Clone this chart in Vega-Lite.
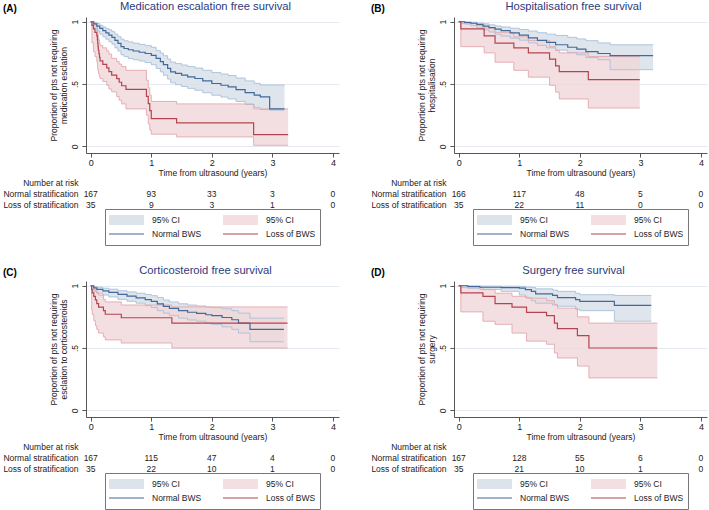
{
  "$schema": "https://vega.github.io/schema/vega-lite/v6.json",
  "padding": {"left": 2, "top": 0, "right": 2, "bottom": 0},
  "background": "white",
  "config": {
    "font": "Liberation Sans",
    "view": {"stroke": null},
    "title": {"font": "Liberation Sans", "fontWeight": "normal"},
    "axis": {"labelFont": "Liberation Sans", "titleFont": "Liberation Sans", "labelColor": "#222", "titleColor": "#222", "titleFontWeight": "normal", "domainColor": "#555", "tickColor": "#555", "tickSize": 4, "gridColor": "#e3e9ee", "labelFontSize": 9, "titleFontSize": 8.5},
    "legend": {"labelFont": "Liberation Sans", "labelFontSize": 8.5, "labelColor": "#222", "strokeColor": "#777", "padding": 4, "columnPadding": 21, "rowPadding": 0, "labelOffset": 3, "symbolOffset": -5},
    "text": {"font": "Liberation Sans"}
  },
  "datasets": {
    "km": [
      {"p":"A","g":"N","t":0,"s":1,"lo":1,"hi":1},{"p":"A","g":"N","t":0.05,"s":0.982,"lo":0.95,"hi":0.995},{"p":"A","g":"N","t":0.1,"s":0.964,"lo":0.925,"hi":0.985},{"p":"A","g":"N","t":0.15,"s":0.946,"lo":0.9,"hi":0.972},{"p":"A","g":"N","t":0.2,"s":0.928,"lo":0.88,"hi":0.958},{"p":"A","g":"N","t":0.25,"s":0.91,"lo":0.86,"hi":0.945},{"p":"A","g":"N","t":0.3,"s":0.892,"lo":0.84,"hi":0.935},{"p":"A","g":"N","t":0.35,"s":0.874,"lo":0.82,"hi":0.92},{"p":"A","g":"N","t":0.4,"s":0.85,"lo":0.79,"hi":0.9},{"p":"A","g":"N","t":0.45,"s":0.826,"lo":0.765,"hi":0.88},{"p":"A","g":"N","t":0.5,"s":0.8,"lo":0.735,"hi":0.86},{"p":"A","g":"N","t":0.55,"s":0.785,"lo":0.72,"hi":0.847},{"p":"A","g":"N","t":0.62,"s":0.775,"lo":0.705,"hi":0.838},{"p":"A","g":"N","t":0.7,"s":0.765,"lo":0.695,"hi":0.828},{"p":"A","g":"N","t":0.8,"s":0.755,"lo":0.685,"hi":0.818},{"p":"A","g":"N","t":0.9,"s":0.745,"lo":0.672,"hi":0.808},{"p":"A","g":"N","t":1.0,"s":0.73,"lo":0.655,"hi":0.795},{"p":"A","g":"N","t":1.08,"s":0.705,"lo":0.625,"hi":0.768},{"p":"A","g":"N","t":1.15,"s":0.68,"lo":0.598,"hi":0.748},{"p":"A","g":"N","t":1.2,"s":0.655,"lo":0.57,"hi":0.727},{"p":"A","g":"N","t":1.27,"s":0.625,"lo":0.54,"hi":0.7},{"p":"A","g":"N","t":1.32,"s":0.598,"lo":0.51,"hi":0.676},{"p":"A","g":"N","t":1.4,"s":0.585,"lo":0.495,"hi":0.664},{"p":"A","g":"N","t":1.5,"s":0.571,"lo":0.48,"hi":0.652},{"p":"A","g":"N","t":1.6,"s":0.558,"lo":0.465,"hi":0.64},{"p":"A","g":"N","t":1.72,"s":0.544,"lo":0.45,"hi":0.628},{"p":"A","g":"N","t":1.85,"s":0.525,"lo":0.43,"hi":0.61},{"p":"A","g":"N","t":2.0,"s":0.504,"lo":0.41,"hi":0.592},{"p":"A","g":"N","t":2.15,"s":0.49,"lo":0.395,"hi":0.58},{"p":"A","g":"N","t":2.27,"s":0.477,"lo":0.38,"hi":0.568},{"p":"A","g":"N","t":2.4,"s":0.455,"lo":0.36,"hi":0.548},{"p":"A","g":"N","t":2.55,"s":0.43,"lo":0.335,"hi":0.525},{"p":"A","g":"N","t":2.7,"s":0.41,"lo":0.31,"hi":0.505},{"p":"A","g":"N","t":2.8,"s":0.397,"lo":0.295,"hi":0.492},{"p":"A","g":"N","t":2.955,"s":0.3,"lo":0.29,"hi":0.492},{"p":"A","g":"N","t":3.2,"s":0.3,"lo":0.29,"hi":0.492},
      {"p":"A","g":"L","t":0,"s":1,"lo":1,"hi":1},{"p":"A","g":"L","t":0.02,"s":0.971,"lo":0.83,"hi":0.996},{"p":"A","g":"L","t":0.045,"s":0.943,"lo":0.76,"hi":0.99},{"p":"A","g":"L","t":0.07,"s":0.914,"lo":0.72,"hi":0.975},{"p":"A","g":"L","t":0.1,"s":0.886,"lo":0.68,"hi":0.955},{"p":"A","g":"L","t":0.11,"s":0.857,"lo":0.655,"hi":0.935},{"p":"A","g":"L","t":0.115,"s":0.829,"lo":0.63,"hi":0.915},{"p":"A","g":"L","t":0.12,"s":0.8,"lo":0.61,"hi":0.895},{"p":"A","g":"L","t":0.126,"s":0.771,"lo":0.59,"hi":0.87},{"p":"A","g":"L","t":0.135,"s":0.743,"lo":0.575,"hi":0.85},{"p":"A","g":"L","t":0.145,"s":0.714,"lo":0.56,"hi":0.83},{"p":"A","g":"L","t":0.154,"s":0.686,"lo":0.545,"hi":0.81},{"p":"A","g":"L","t":0.2,"s":0.657,"lo":0.52,"hi":0.79},{"p":"A","g":"L","t":0.264,"s":0.629,"lo":0.49,"hi":0.765},{"p":"A","g":"L","t":0.3,"s":0.6,"lo":0.46,"hi":0.74},{"p":"A","g":"L","t":0.346,"s":0.571,"lo":0.437,"hi":0.705},{"p":"A","g":"L","t":0.429,"s":0.543,"lo":0.4,"hi":0.68},{"p":"A","g":"L","t":0.47,"s":0.514,"lo":0.37,"hi":0.66},{"p":"A","g":"L","t":0.511,"s":0.486,"lo":0.34,"hi":0.64},{"p":"A","g":"L","t":0.582,"s":0.457,"lo":0.3,"hi":0.61},{"p":"A","g":"L","t":0.92,"s":0.4,"lo":0.25,"hi":0.53},{"p":"A","g":"L","t":0.95,"s":0.343,"lo":0.18,"hi":0.47},{"p":"A","g":"L","t":0.975,"s":0.286,"lo":0.13,"hi":0.41},{"p":"A","g":"L","t":1.0,"s":0.222,"lo":0.097,"hi":0.36},{"p":"A","g":"L","t":1.418,"s":0.188,"lo":0.075,"hi":0.34},{"p":"A","g":"L","t":2.69,"s":0.094,"lo":0.008,"hi":0.3},{"p":"A","g":"L","t":3.26,"s":0.094,"lo":0.008,"hi":0.3},
      {"p":"B","g":"N","t":0,"s":1,"lo":1,"hi":1},{"p":"B","g":"N","t":0.1,"s":0.994,"lo":0.982,"hi":0.999},{"p":"B","g":"N","t":0.2,"s":0.988,"lo":0.968,"hi":0.996},{"p":"B","g":"N","t":0.3,"s":0.976,"lo":0.952,"hi":0.99},{"p":"B","g":"N","t":0.4,"s":0.964,"lo":0.935,"hi":0.983},{"p":"B","g":"N","t":0.5,"s":0.952,"lo":0.918,"hi":0.975},{"p":"B","g":"N","t":0.6,"s":0.94,"lo":0.9,"hi":0.966},{"p":"B","g":"N","t":0.7,"s":0.928,"lo":0.885,"hi":0.958},{"p":"B","g":"N","t":0.85,"s":0.91,"lo":0.868,"hi":0.948},{"p":"B","g":"N","t":1.0,"s":0.892,"lo":0.852,"hi":0.938},{"p":"B","g":"N","t":1.15,"s":0.87,"lo":0.83,"hi":0.925},{"p":"B","g":"N","t":1.3,"s":0.85,"lo":0.81,"hi":0.912},{"p":"B","g":"N","t":1.45,"s":0.835,"lo":0.79,"hi":0.9},{"p":"B","g":"N","t":1.6,"s":0.815,"lo":0.772,"hi":0.89},{"p":"B","g":"N","t":1.8,"s":0.795,"lo":0.752,"hi":0.875},{"p":"B","g":"N","t":1.95,"s":0.78,"lo":0.735,"hi":0.862},{"p":"B","g":"N","t":2.1,"s":0.76,"lo":0.712,"hi":0.848},{"p":"B","g":"N","t":2.3,"s":0.745,"lo":0.695,"hi":0.83},{"p":"B","g":"N","t":2.5,"s":0.728,"lo":0.615,"hi":0.815},{"p":"B","g":"N","t":3.21,"s":0.728,"lo":0.615,"hi":0.815},
      {"p":"B","g":"L","t":0,"s":1,"lo":1,"hi":1},{"p":"B","g":"L","t":0.035,"s":0.943,"lo":0.8,"hi":0.985},{"p":"B","g":"L","t":0.42,"s":0.886,"lo":0.75,"hi":0.95},{"p":"B","g":"L","t":0.6,"s":0.829,"lo":0.675,"hi":0.915},{"p":"B","g":"L","t":0.91,"s":0.79,"lo":0.61,"hi":0.878},{"p":"B","g":"L","t":1.15,"s":0.75,"lo":0.555,"hi":0.85},{"p":"B","g":"L","t":1.5,"s":0.7,"lo":0.49,"hi":0.8},{"p":"B","g":"L","t":1.6,"s":0.645,"lo":0.435,"hi":0.77},{"p":"B","g":"L","t":1.66,"s":0.6,"lo":0.38,"hi":0.75},{"p":"B","g":"L","t":2.14,"s":0.535,"lo":0.307,"hi":0.72},{"p":"B","g":"L","t":2.99,"s":0.535,"lo":0.307,"hi":0.72},
      {"p":"C","g":"N","t":0,"s":1,"lo":1,"hi":1},{"p":"C","g":"N","t":0.05,"s":0.982,"lo":0.955,"hi":0.994},{"p":"C","g":"N","t":0.1,"s":0.97,"lo":0.94,"hi":0.988},{"p":"C","g":"N","t":0.2,"s":0.958,"lo":0.925,"hi":0.98},{"p":"C","g":"N","t":0.3,"s":0.946,"lo":0.91,"hi":0.972},{"p":"C","g":"N","t":0.45,"s":0.93,"lo":0.89,"hi":0.96},{"p":"C","g":"N","t":0.6,"s":0.916,"lo":0.875,"hi":0.95},{"p":"C","g":"N","t":0.75,"s":0.903,"lo":0.86,"hi":0.94},{"p":"C","g":"N","t":0.9,"s":0.888,"lo":0.84,"hi":0.93},{"p":"C","g":"N","t":1.0,"s":0.875,"lo":0.825,"hi":0.92},{"p":"C","g":"N","t":1.1,"s":0.855,"lo":0.8,"hi":0.905},{"p":"C","g":"N","t":1.2,"s":0.835,"lo":0.78,"hi":0.885},{"p":"C","g":"N","t":1.3,"s":0.818,"lo":0.76,"hi":0.87},{"p":"C","g":"N","t":1.45,"s":0.8,"lo":0.74,"hi":0.855},{"p":"C","g":"N","t":1.6,"s":0.787,"lo":0.725,"hi":0.845},{"p":"C","g":"N","t":1.75,"s":0.778,"lo":0.715,"hi":0.838},{"p":"C","g":"N","t":1.9,"s":0.767,"lo":0.7,"hi":0.83},{"p":"C","g":"N","t":2.0,"s":0.76,"lo":0.69,"hi":0.825},{"p":"C","g":"N","t":2.17,"s":0.745,"lo":0.67,"hi":0.815},{"p":"C","g":"N","t":2.33,"s":0.727,"lo":0.65,"hi":0.8},{"p":"C","g":"N","t":2.44,"s":0.7,"lo":0.62,"hi":0.78},{"p":"C","g":"N","t":2.63,"s":0.65,"lo":0.55,"hi":0.74},{"p":"C","g":"N","t":3.19,"s":0.65,"lo":0.55,"hi":0.74},
      {"p":"C","g":"L","t":0,"s":1,"lo":1,"hi":1},{"p":"C","g":"L","t":0.015,"s":0.971,"lo":0.81,"hi":0.996},{"p":"C","g":"L","t":0.025,"s":0.943,"lo":0.77,"hi":0.99},{"p":"C","g":"L","t":0.05,"s":0.914,"lo":0.72,"hi":0.975},{"p":"C","g":"L","t":0.077,"s":0.886,"lo":0.68,"hi":0.96},{"p":"C","g":"L","t":0.1,"s":0.857,"lo":0.65,"hi":0.945},{"p":"C","g":"L","t":0.13,"s":0.829,"lo":0.62,"hi":0.925},{"p":"C","g":"L","t":0.21,"s":0.8,"lo":0.59,"hi":0.89},{"p":"C","g":"L","t":0.24,"s":0.771,"lo":0.565,"hi":0.87},{"p":"C","g":"L","t":0.505,"s":0.743,"lo":0.54,"hi":0.845},{"p":"C","g":"L","t":1.34,"s":0.7,"lo":0.5,"hi":0.83},{"p":"C","g":"L","t":3.25,"s":0.7,"lo":0.5,"hi":0.83},
      {"p":"D","g":"N","t":0,"s":1,"lo":1,"hi":1},{"p":"D","g":"N","t":0.15,"s":0.994,"lo":0.98,"hi":0.999},{"p":"D","g":"N","t":0.35,"s":0.988,"lo":0.97,"hi":0.997},{"p":"D","g":"N","t":0.7,"s":0.985,"lo":0.955,"hi":0.996},{"p":"D","g":"N","t":1.0,"s":0.981,"lo":0.925,"hi":0.995},{"p":"D","g":"N","t":1.1,"s":0.968,"lo":0.905,"hi":0.99},{"p":"D","g":"N","t":1.2,"s":0.955,"lo":0.88,"hi":0.985},{"p":"D","g":"N","t":1.27,"s":0.935,"lo":0.86,"hi":0.975},{"p":"D","g":"N","t":1.55,"s":0.923,"lo":0.845,"hi":0.965},{"p":"D","g":"N","t":1.63,"s":0.905,"lo":0.835,"hi":0.955},{"p":"D","g":"N","t":1.93,"s":0.888,"lo":0.81,"hi":0.94},{"p":"D","g":"N","t":2.0,"s":0.875,"lo":0.8,"hi":0.928},{"p":"D","g":"N","t":2.57,"s":0.843,"lo":0.715,"hi":0.922},{"p":"D","g":"N","t":3.18,"s":0.843,"lo":0.715,"hi":0.922},
      {"p":"D","g":"L","t":0,"s":1,"lo":1,"hi":1},{"p":"D","g":"L","t":0.035,"s":0.943,"lo":0.79,"hi":0.985},{"p":"D","g":"L","t":0.4,"s":0.914,"lo":0.715,"hi":0.97},{"p":"D","g":"L","t":0.6,"s":0.857,"lo":0.69,"hi":0.94},{"p":"D","g":"L","t":0.88,"s":0.829,"lo":0.62,"hi":0.915},{"p":"D","g":"L","t":1.12,"s":0.786,"lo":0.555,"hi":0.9},{"p":"D","g":"L","t":1.45,"s":0.76,"lo":0.53,"hi":0.88},{"p":"D","g":"L","t":1.58,"s":0.7,"lo":0.46,"hi":0.85},{"p":"D","g":"L","t":1.63,"s":0.655,"lo":0.42,"hi":0.82},{"p":"D","g":"L","t":1.96,"s":0.6,"lo":0.355,"hi":0.75},{"p":"D","g":"L","t":2.15,"s":0.5,"lo":0.26,"hi":0.7},{"p":"D","g":"L","t":3.28,"s":0.5,"lo":0.26,"hi":0.7}
    ],
    "risk": [
      {"p":"A","row":"Normal stratification","t":0,"n":167},{"p":"A","row":"Normal stratification","t":1,"n":93},{"p":"A","row":"Normal stratification","t":2,"n":33},{"p":"A","row":"Normal stratification","t":3,"n":3},{"p":"A","row":"Normal stratification","t":4,"n":0},
      {"p":"A","row":"Loss of stratification","t":0,"n":35},{"p":"A","row":"Loss of stratification","t":1,"n":9},{"p":"A","row":"Loss of stratification","t":2,"n":3},{"p":"A","row":"Loss of stratification","t":3,"n":1},{"p":"A","row":"Loss of stratification","t":4,"n":0},
      {"p":"B","row":"Normal stratification","t":0,"n":166},{"p":"B","row":"Normal stratification","t":1,"n":117},{"p":"B","row":"Normal stratification","t":2,"n":48},{"p":"B","row":"Normal stratification","t":3,"n":5},{"p":"B","row":"Normal stratification","t":4,"n":0},
      {"p":"B","row":"Loss of stratification","t":0,"n":35},{"p":"B","row":"Loss of stratification","t":1,"n":22},{"p":"B","row":"Loss of stratification","t":2,"n":11},{"p":"B","row":"Loss of stratification","t":3,"n":0},{"p":"B","row":"Loss of stratification","t":4,"n":0},
      {"p":"C","row":"Normal stratification","t":0,"n":167},{"p":"C","row":"Normal stratification","t":1,"n":115},{"p":"C","row":"Normal stratification","t":2,"n":47},{"p":"C","row":"Normal stratification","t":3,"n":4},{"p":"C","row":"Normal stratification","t":4,"n":0},
      {"p":"C","row":"Loss of stratification","t":0,"n":35},{"p":"C","row":"Loss of stratification","t":1,"n":22},{"p":"C","row":"Loss of stratification","t":2,"n":10},{"p":"C","row":"Loss of stratification","t":3,"n":1},{"p":"C","row":"Loss of stratification","t":4,"n":0},
      {"p":"D","row":"Normal stratification","t":0,"n":167},{"p":"D","row":"Normal stratification","t":1,"n":128},{"p":"D","row":"Normal stratification","t":2,"n":55},{"p":"D","row":"Normal stratification","t":3,"n":6},{"p":"D","row":"Normal stratification","t":4,"n":0},
      {"p":"D","row":"Loss of stratification","t":0,"n":35},{"p":"D","row":"Loss of stratification","t":1,"n":21},{"p":"D","row":"Loss of stratification","t":2,"n":10},{"p":"D","row":"Loss of stratification","t":3,"n":1},{"p":"D","row":"Loss of stratification","t":4,"n":0}
    ],
    "pv": [{"p":"A","label":"p<0.0001"},{"p":"B","label":"p=0.028"},{"p":"C","label":"p=0.307"},{"p":"D","label":"p<0.0001"}]
  },
  "columns": 2,
  "spacing": {"row": 18, "column": 31},
  "resolve": {"scale": {"x": "independent", "y": "independent", "fill": "independent", "stroke": "independent", "strokeWidth": "independent"}},
  "concat": [
    {
      "title": {"text": "(A)", "anchor": "start", "frame": "bounds", "fontSize": 10, "fontWeight": "bold", "color": "#000", "offset": -13},
      "spacing": 0,
      "resolve": {"scale": {"x": "independent", "y": "independent"}},
      "vconcat": [
        {
          "width": 253, "height": 136,
          "title": {"text": "Medication escalation free survival", "fontSize": 11.2, "color": "#2b3a7c", "fontWeight": "normal", "offset": 5, "dx": -7},
          "data": {"name": "km"},
          "transform": [{"filter": "datum.p=='A'"}],
          "encoding": {"x": {"field": "t", "type": "quantitative", "scale": {"domain": [-0.078, 4.1], "nice": false, "zero": false}, "axis": {"values": [0,1,2,3,4], "format": "d", "grid": false, "title": "Time from ultrasound (years)", "labelFlush": false, "labelPadding": 1, "titlePadding": 1}}},
          "layer": [
            {"transform": [{"calculate": "datum.g=='N'?'ciN':'ciL'", "as": "key"}],
             "mark": {"type": "area", "interpolate": "step-after", "fillOpacity": 0.8},
             "encoding": {"y": {"field": "lo", "type": "quantitative", "stack": null, "scale": {"domain": [-0.054, 1.038], "nice": false, "zero": false}, "axis": {"values": [0,0.25,0.5,0.75,1], "labelExpr": "datum.value==0?'0':datum.value==1?'1':replace(format(datum.value,'~g'),'0.','.')", "labelAngle": -90, "labelAlign": "center", "labelBaseline": "bottom", "grid": true, "title": ["Proportion of pts not requiring", "medication esclation"], "titlePadding": 2, "labelPadding": 3, "labelFontSize": 8.5, "titleLineHeight": 10}},
               "y2": {"field": "hi"},
               "fill": {"field": "key", "type": "nominal", "scale": {"domain": ["ciN","ciL","lnN","lnL"], "range": ["#d7dee7","#f0d7d9","transparent","transparent"]}, "legend": {"title": null, "orient": "none", "legendX": 19, "legendY": 192, "direction": "horizontal", "columns": 2, "symbolType": "stroke", "labelExpr": "datum.value=='lnN' ? 'Normal BWS' : datum.value=='lnL' ? 'Loss of BWS' : '95% CI'", "symbolSize": 1225, "clipHeight": 14}}}},
            {"transform": [{"fold": ["lo","hi"], "as": ["bound","v"]}],
             "mark": {"type": "line", "interpolate": "step-after", "strokeWidth": 0.9},
             "encoding": {"y": {"field": "v", "type": "quantitative", "scale": {"domain": [-0.054, 1.038], "nice": false, "zero": false}}, "detail": [{"field": "g"}, {"field": "bound"}], "stroke": {"condition": {"test": "datum.g=='N'", "value": "#a9bfd8"}, "value": "#e2a8ae"}}},
            {"transform": [{"calculate": "datum.g=='N'?'lnN':'lnL'", "as": "key"}],
             "mark": {"type": "line", "interpolate": "step-after"},
             "encoding": {"y": {"field": "s", "type": "quantitative", "scale": {"domain": [-0.054, 1.038], "nice": false, "zero": false}},
               "stroke": {"field": "key", "type": "nominal", "scale": {"domain": ["ciN","ciL","lnN","lnL"], "range": ["#dce3eb","#f3dfe1","#41699a","#b5444f"]}, "legend": {"title": null, "orient": "none", "legendX": 19, "legendY": 192, "direction": "horizontal", "columns": 2, "symbolType": "stroke", "labelExpr": "datum.value=='lnN' ? 'Normal BWS' : datum.value=='lnL' ? 'Loss of BWS' : '95% CI'", "symbolSize": 1225, "clipHeight": 14}},
               "strokeWidth": {"field": "key", "type": "nominal", "scale": {"type": "ordinal", "domain": ["ciN","ciL","lnN","lnL"], "range": [10, 10, 1.2, 1.2]}, "legend": {"title": null, "orient": "none", "legendX": 19, "legendY": 192, "direction": "horizontal", "columns": 2, "symbolType": "stroke", "labelExpr": "datum.value=='lnN' ? 'Normal BWS' : datum.value=='lnL' ? 'Loss of BWS' : '95% CI'", "symbolSize": 1225, "clipHeight": 14}}}},
            {"data": {"name": "pv"}, "transform": [{"filter": "datum.p=='A'"}],
             "mark": {"type": "text", "align": "right", "baseline": "middle", "fontSize": 8.5, "color": "#222"},
             "encoding": {"x": {"datum": 3.95, "type": "quantitative"}, "y": {"datum": 0.915, "type": "quantitative", "scale": {"domain": [-0.054, 1.038], "nice": false, "zero": false}}, "text": {"field": "label"}}}
          ]
        },
        {
          "width": 253, "height": 33,
          "data": {"name": "risk"},
          "transform": [{"filter": "datum.p=='A'"}],
          "mark": {"type": "text", "fontSize": 8.5, "color": "#222"},
          "encoding": {
            "x": {"field": "t", "type": "quantitative", "scale": {"domain": [-0.078, 4.1], "nice": false, "zero": false}, "axis": null},
            "y": {"field": "row", "type": "nominal", "scale": {"type": "point", "domain": ["Number at risk", "Normal stratification", "Loss of stratification"], "padding": 0.5}, "axis": {"title": null, "domain": false, "ticks": false, "grid": false, "labelPadding": 8, "labelFontSize": 8.5}},
            "text": {"field": "n", "type": "quantitative"}
          }
        }
      ]
    },
    {
      "title": {"text": "(B)", "anchor": "start", "frame": "bounds", "fontSize": 10, "fontWeight": "bold", "color": "#000", "offset": -13},
      "spacing": 0,
      "resolve": {"scale": {"x": "independent", "y": "independent"}},
      "vconcat": [
        {
          "width": 253, "height": 136,
          "title": {"text": "Hospitalisation free survival", "fontSize": 11.2, "color": "#2b3a7c", "fontWeight": "normal", "offset": 5, "dx": -7},
          "data": {"name": "km"},
          "transform": [{"filter": "datum.p=='B'"}],
          "encoding": {"x": {"field": "t", "type": "quantitative", "scale": {"domain": [-0.078, 4.1], "nice": false, "zero": false}, "axis": {"values": [0,1,2,3,4], "format": "d", "grid": false, "title": "Time from ultrasound (years)", "labelFlush": false, "labelPadding": 1, "titlePadding": 1}}},
          "layer": [
            {"transform": [{"calculate": "datum.g=='N'?'ciN':'ciL'", "as": "key"}],
             "mark": {"type": "area", "interpolate": "step-after", "fillOpacity": 0.8},
             "encoding": {"y": {"field": "lo", "type": "quantitative", "stack": null, "scale": {"domain": [-0.054, 1.038], "nice": false, "zero": false}, "axis": {"values": [0,0.25,0.5,0.75,1], "labelExpr": "datum.value==0?'0':datum.value==1?'1':replace(format(datum.value,'~g'),'0.','.')", "labelAngle": -90, "labelAlign": "center", "labelBaseline": "bottom", "grid": true, "title": ["Proportion of pts not requiring", "hospitalisation"], "titlePadding": 2, "labelPadding": 3, "labelFontSize": 8.5, "titleLineHeight": 10}},
               "y2": {"field": "hi"},
               "fill": {"field": "key", "type": "nominal", "scale": {"domain": ["ciN","ciL","lnN","lnL"], "range": ["#d7dee7","#f0d7d9","transparent","transparent"]}, "legend": {"title": null, "orient": "none", "legendX": 19, "legendY": 192, "direction": "horizontal", "columns": 2, "symbolType": "stroke", "labelExpr": "datum.value=='lnN' ? 'Normal BWS' : datum.value=='lnL' ? 'Loss of BWS' : '95% CI'", "symbolSize": 1225, "clipHeight": 14}}}},
            {"transform": [{"fold": ["lo","hi"], "as": ["bound","v"]}],
             "mark": {"type": "line", "interpolate": "step-after", "strokeWidth": 0.9},
             "encoding": {"y": {"field": "v", "type": "quantitative", "scale": {"domain": [-0.054, 1.038], "nice": false, "zero": false}}, "detail": [{"field": "g"}, {"field": "bound"}], "stroke": {"condition": {"test": "datum.g=='N'", "value": "#a9bfd8"}, "value": "#e2a8ae"}}},
            {"transform": [{"calculate": "datum.g=='N'?'lnN':'lnL'", "as": "key"}],
             "mark": {"type": "line", "interpolate": "step-after"},
             "encoding": {"y": {"field": "s", "type": "quantitative", "scale": {"domain": [-0.054, 1.038], "nice": false, "zero": false}},
               "stroke": {"field": "key", "type": "nominal", "scale": {"domain": ["ciN","ciL","lnN","lnL"], "range": ["#dce3eb","#f3dfe1","#41699a","#b5444f"]}, "legend": {"title": null, "orient": "none", "legendX": 19, "legendY": 192, "direction": "horizontal", "columns": 2, "symbolType": "stroke", "labelExpr": "datum.value=='lnN' ? 'Normal BWS' : datum.value=='lnL' ? 'Loss of BWS' : '95% CI'", "symbolSize": 1225, "clipHeight": 14}},
               "strokeWidth": {"field": "key", "type": "nominal", "scale": {"type": "ordinal", "domain": ["ciN","ciL","lnN","lnL"], "range": [10, 10, 1.2, 1.2]}, "legend": {"title": null, "orient": "none", "legendX": 19, "legendY": 192, "direction": "horizontal", "columns": 2, "symbolType": "stroke", "labelExpr": "datum.value=='lnN' ? 'Normal BWS' : datum.value=='lnL' ? 'Loss of BWS' : '95% CI'", "symbolSize": 1225, "clipHeight": 14}}}},
            {"data": {"name": "pv"}, "transform": [{"filter": "datum.p=='B'"}],
             "mark": {"type": "text", "align": "right", "baseline": "middle", "fontSize": 8.5, "color": "#222"},
             "encoding": {"x": {"datum": 3.95, "type": "quantitative"}, "y": {"datum": 0.915, "type": "quantitative", "scale": {"domain": [-0.054, 1.038], "nice": false, "zero": false}}, "text": {"field": "label"}}}
          ]
        },
        {
          "width": 253, "height": 33,
          "data": {"name": "risk"},
          "transform": [{"filter": "datum.p=='B'"}],
          "mark": {"type": "text", "fontSize": 8.5, "color": "#222"},
          "encoding": {
            "x": {"field": "t", "type": "quantitative", "scale": {"domain": [-0.078, 4.1], "nice": false, "zero": false}, "axis": null},
            "y": {"field": "row", "type": "nominal", "scale": {"type": "point", "domain": ["Number at risk", "Normal stratification", "Loss of stratification"], "padding": 0.5}, "axis": {"title": null, "domain": false, "ticks": false, "grid": false, "labelPadding": 8, "labelFontSize": 8.5}},
            "text": {"field": "n", "type": "quantitative"}
          }
        }
      ]
    },
    {
      "title": {"text": "(C)", "anchor": "start", "frame": "bounds", "fontSize": 10, "fontWeight": "bold", "color": "#000", "offset": -13},
      "spacing": 0,
      "resolve": {"scale": {"x": "independent", "y": "independent"}},
      "vconcat": [
        {
          "width": 253, "height": 136,
          "title": {"text": "Corticosteroid free survival", "fontSize": 11.2, "color": "#2b3a7c", "fontWeight": "normal", "offset": 5, "dx": -7},
          "data": {"name": "km"},
          "transform": [{"filter": "datum.p=='C'"}],
          "encoding": {"x": {"field": "t", "type": "quantitative", "scale": {"domain": [-0.078, 4.1], "nice": false, "zero": false}, "axis": {"values": [0,1,2,3,4], "format": "d", "grid": false, "title": "Time from ultrasound (years)", "labelFlush": false, "labelPadding": 1, "titlePadding": 1}}},
          "layer": [
            {"transform": [{"calculate": "datum.g=='N'?'ciN':'ciL'", "as": "key"}],
             "mark": {"type": "area", "interpolate": "step-after", "fillOpacity": 0.8},
             "encoding": {"y": {"field": "lo", "type": "quantitative", "stack": null, "scale": {"domain": [-0.054, 1.038], "nice": false, "zero": false}, "axis": {"values": [0,0.25,0.5,0.75,1], "labelExpr": "datum.value==0?'0':datum.value==1?'1':replace(format(datum.value,'~g'),'0.','.')", "labelAngle": -90, "labelAlign": "center", "labelBaseline": "bottom", "grid": true, "title": ["Proportion of pts not requiring", "esclation to corticosteroids"], "titlePadding": 2, "labelPadding": 3, "labelFontSize": 8.5, "titleLineHeight": 10}},
               "y2": {"field": "hi"},
               "fill": {"field": "key", "type": "nominal", "scale": {"domain": ["ciN","ciL","lnN","lnL"], "range": ["#d7dee7","#f0d7d9","transparent","transparent"]}, "legend": {"title": null, "orient": "none", "legendX": 19, "legendY": 192, "direction": "horizontal", "columns": 2, "symbolType": "stroke", "labelExpr": "datum.value=='lnN' ? 'Normal BWS' : datum.value=='lnL' ? 'Loss of BWS' : '95% CI'", "symbolSize": 1225, "clipHeight": 14}}}},
            {"transform": [{"fold": ["lo","hi"], "as": ["bound","v"]}],
             "mark": {"type": "line", "interpolate": "step-after", "strokeWidth": 0.9},
             "encoding": {"y": {"field": "v", "type": "quantitative", "scale": {"domain": [-0.054, 1.038], "nice": false, "zero": false}}, "detail": [{"field": "g"}, {"field": "bound"}], "stroke": {"condition": {"test": "datum.g=='N'", "value": "#a9bfd8"}, "value": "#e2a8ae"}}},
            {"transform": [{"calculate": "datum.g=='N'?'lnN':'lnL'", "as": "key"}],
             "mark": {"type": "line", "interpolate": "step-after"},
             "encoding": {"y": {"field": "s", "type": "quantitative", "scale": {"domain": [-0.054, 1.038], "nice": false, "zero": false}},
               "stroke": {"field": "key", "type": "nominal", "scale": {"domain": ["ciN","ciL","lnN","lnL"], "range": ["#dce3eb","#f3dfe1","#41699a","#b5444f"]}, "legend": {"title": null, "orient": "none", "legendX": 19, "legendY": 192, "direction": "horizontal", "columns": 2, "symbolType": "stroke", "labelExpr": "datum.value=='lnN' ? 'Normal BWS' : datum.value=='lnL' ? 'Loss of BWS' : '95% CI'", "symbolSize": 1225, "clipHeight": 14}},
               "strokeWidth": {"field": "key", "type": "nominal", "scale": {"type": "ordinal", "domain": ["ciN","ciL","lnN","lnL"], "range": [10, 10, 1.2, 1.2]}, "legend": {"title": null, "orient": "none", "legendX": 19, "legendY": 192, "direction": "horizontal", "columns": 2, "symbolType": "stroke", "labelExpr": "datum.value=='lnN' ? 'Normal BWS' : datum.value=='lnL' ? 'Loss of BWS' : '95% CI'", "symbolSize": 1225, "clipHeight": 14}}}},
            {"data": {"name": "pv"}, "transform": [{"filter": "datum.p=='C'"}],
             "mark": {"type": "text", "align": "right", "baseline": "middle", "fontSize": 8.5, "color": "#222"},
             "encoding": {"x": {"datum": 3.95, "type": "quantitative"}, "y": {"datum": 0.915, "type": "quantitative", "scale": {"domain": [-0.054, 1.038], "nice": false, "zero": false}}, "text": {"field": "label"}}}
          ]
        },
        {
          "width": 253, "height": 33,
          "data": {"name": "risk"},
          "transform": [{"filter": "datum.p=='C'"}],
          "mark": {"type": "text", "fontSize": 8.5, "color": "#222"},
          "encoding": {
            "x": {"field": "t", "type": "quantitative", "scale": {"domain": [-0.078, 4.1], "nice": false, "zero": false}, "axis": null},
            "y": {"field": "row", "type": "nominal", "scale": {"type": "point", "domain": ["Number at risk", "Normal stratification", "Loss of stratification"], "padding": 0.5}, "axis": {"title": null, "domain": false, "ticks": false, "grid": false, "labelPadding": 8, "labelFontSize": 8.5}},
            "text": {"field": "n", "type": "quantitative"}
          }
        }
      ]
    },
    {
      "title": {"text": "(D)", "anchor": "start", "frame": "bounds", "fontSize": 10, "fontWeight": "bold", "color": "#000", "offset": -13},
      "spacing": 0,
      "resolve": {"scale": {"x": "independent", "y": "independent"}},
      "vconcat": [
        {
          "width": 253, "height": 136,
          "title": {"text": "Surgery free survival", "fontSize": 11.2, "color": "#2b3a7c", "fontWeight": "normal", "offset": 5, "dx": -7},
          "data": {"name": "km"},
          "transform": [{"filter": "datum.p=='D'"}],
          "encoding": {"x": {"field": "t", "type": "quantitative", "scale": {"domain": [-0.078, 4.1], "nice": false, "zero": false}, "axis": {"values": [0,1,2,3,4], "format": "d", "grid": false, "title": "Time from ultrasound (years)", "labelFlush": false, "labelPadding": 1, "titlePadding": 1}}},
          "layer": [
            {"transform": [{"calculate": "datum.g=='N'?'ciN':'ciL'", "as": "key"}],
             "mark": {"type": "area", "interpolate": "step-after", "fillOpacity": 0.8},
             "encoding": {"y": {"field": "lo", "type": "quantitative", "stack": null, "scale": {"domain": [-0.054, 1.038], "nice": false, "zero": false}, "axis": {"values": [0,0.25,0.5,0.75,1], "labelExpr": "datum.value==0?'0':datum.value==1?'1':replace(format(datum.value,'~g'),'0.','.')", "labelAngle": -90, "labelAlign": "center", "labelBaseline": "bottom", "grid": true, "title": ["Proportion of pts not requiring", "surgery"], "titlePadding": 2, "labelPadding": 3, "labelFontSize": 8.5, "titleLineHeight": 10}},
               "y2": {"field": "hi"},
               "fill": {"field": "key", "type": "nominal", "scale": {"domain": ["ciN","ciL","lnN","lnL"], "range": ["#d7dee7","#f0d7d9","transparent","transparent"]}, "legend": {"title": null, "orient": "none", "legendX": 19, "legendY": 192, "direction": "horizontal", "columns": 2, "symbolType": "stroke", "labelExpr": "datum.value=='lnN' ? 'Normal BWS' : datum.value=='lnL' ? 'Loss of BWS' : '95% CI'", "symbolSize": 1225, "clipHeight": 14}}}},
            {"transform": [{"fold": ["lo","hi"], "as": ["bound","v"]}],
             "mark": {"type": "line", "interpolate": "step-after", "strokeWidth": 0.9},
             "encoding": {"y": {"field": "v", "type": "quantitative", "scale": {"domain": [-0.054, 1.038], "nice": false, "zero": false}}, "detail": [{"field": "g"}, {"field": "bound"}], "stroke": {"condition": {"test": "datum.g=='N'", "value": "#a9bfd8"}, "value": "#e2a8ae"}}},
            {"transform": [{"calculate": "datum.g=='N'?'lnN':'lnL'", "as": "key"}],
             "mark": {"type": "line", "interpolate": "step-after"},
             "encoding": {"y": {"field": "s", "type": "quantitative", "scale": {"domain": [-0.054, 1.038], "nice": false, "zero": false}},
               "stroke": {"field": "key", "type": "nominal", "scale": {"domain": ["ciN","ciL","lnN","lnL"], "range": ["#dce3eb","#f3dfe1","#41699a","#b5444f"]}, "legend": {"title": null, "orient": "none", "legendX": 19, "legendY": 192, "direction": "horizontal", "columns": 2, "symbolType": "stroke", "labelExpr": "datum.value=='lnN' ? 'Normal BWS' : datum.value=='lnL' ? 'Loss of BWS' : '95% CI'", "symbolSize": 1225, "clipHeight": 14}},
               "strokeWidth": {"field": "key", "type": "nominal", "scale": {"type": "ordinal", "domain": ["ciN","ciL","lnN","lnL"], "range": [10, 10, 1.2, 1.2]}, "legend": {"title": null, "orient": "none", "legendX": 19, "legendY": 192, "direction": "horizontal", "columns": 2, "symbolType": "stroke", "labelExpr": "datum.value=='lnN' ? 'Normal BWS' : datum.value=='lnL' ? 'Loss of BWS' : '95% CI'", "symbolSize": 1225, "clipHeight": 14}}}},
            {"data": {"name": "pv"}, "transform": [{"filter": "datum.p=='D'"}],
             "mark": {"type": "text", "align": "right", "baseline": "middle", "fontSize": 8.5, "color": "#222"},
             "encoding": {"x": {"datum": 3.95, "type": "quantitative"}, "y": {"datum": 0.915, "type": "quantitative", "scale": {"domain": [-0.054, 1.038], "nice": false, "zero": false}}, "text": {"field": "label"}}}
          ]
        },
        {
          "width": 253, "height": 33,
          "data": {"name": "risk"},
          "transform": [{"filter": "datum.p=='D'"}],
          "mark": {"type": "text", "fontSize": 8.5, "color": "#222"},
          "encoding": {
            "x": {"field": "t", "type": "quantitative", "scale": {"domain": [-0.078, 4.1], "nice": false, "zero": false}, "axis": null},
            "y": {"field": "row", "type": "nominal", "scale": {"type": "point", "domain": ["Number at risk", "Normal stratification", "Loss of stratification"], "padding": 0.5}, "axis": {"title": null, "domain": false, "ticks": false, "grid": false, "labelPadding": 8, "labelFontSize": 8.5}},
            "text": {"field": "n", "type": "quantitative"}
          }
        }
      ]
    }
  ]
}
